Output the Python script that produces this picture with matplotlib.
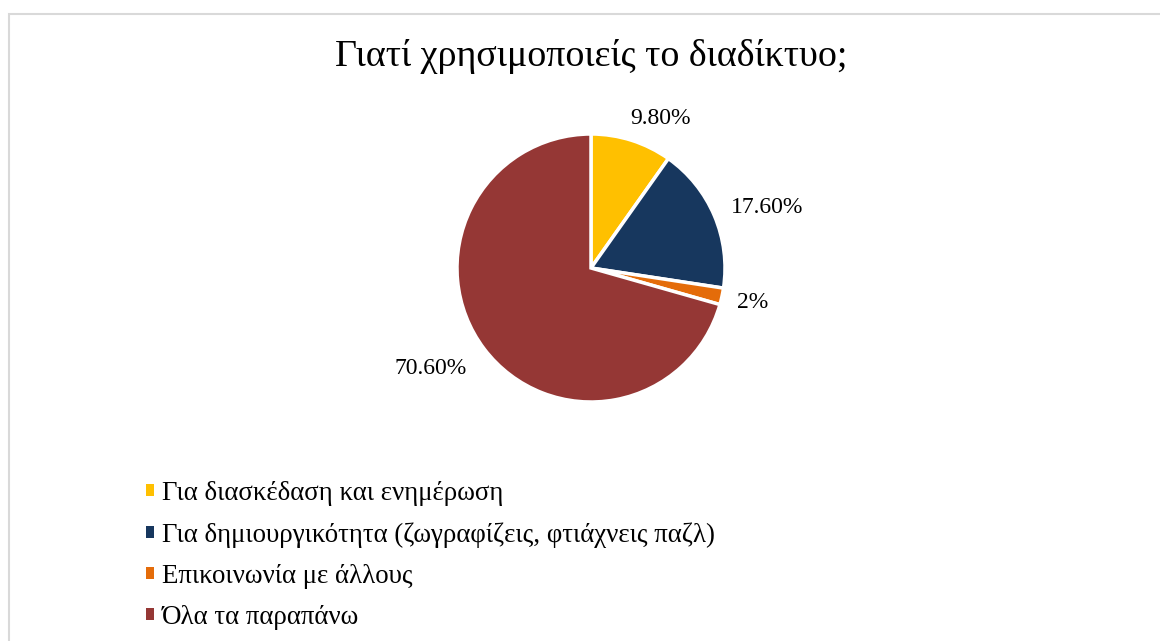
import numpy as np
import matplotlib
matplotlib.use("agg")
import matplotlib.pyplot as plt
from matplotlib.patches import Patch, Rectangle

plt.rcParams['font.family'] = ['Liberation Serif', 'DejaVu Serif']

title = "Γιατί χρησιμοποιείς το διαδίκτυο;"
categories = ["Για διασκέδαση και ενημέρωση",
              "Για δημιουργικότητα (ζωγραφίζεις, φτιάχνεις παζλ)",
              "Επικοινωνία με άλλους",
              "Όλα τα παραπάνω"]
values = [9.8, 17.6, 2.0, 70.6]
value_labels = ["9.80%", "17.60%", "2%", "70.60%"]
colors = ["#FFC000", "#17375E", "#E46C0A", "#953735"]

# label placement (angle in degrees, distance in radii)
label_angles = [65, 19, -12, -148]
label_dist = [1.23, 1.39, 1.23, 1.41]

W, H = 1160, 641
fig = plt.figure(figsize=(W / 100, H / 100), dpi=100)

# outer frame
fig.patches.append(Rectangle((8.5 / W, -0.1), 1.2, 1 - 13.5 / H + 0.1,
                             transform=fig.transFigure, fill=False,
                             edgecolor="#D9D9D9", linewidth=1.5))

cx, cy, r = 591, 268, 134
ax = fig.add_axes([(cx - r) / W, (H - cy - r) / H, 2 * r / W, 2 * r / H])
ax.pie(values, colors=colors, startangle=90, counterclock=False, radius=1,
       wedgeprops=dict(edgecolor="white", linewidth=2.5))
ax.set_xlim(-1, 1)
ax.set_ylim(-1, 1)
ax.set_aspect("equal")
ax.axis("off")

for lab, ang, d in zip(value_labels, label_angles, label_dist):
    a = np.deg2rad(ang)
    ax.text(d * np.cos(a), d * np.sin(a), lab, ha="center", va="center",
            fontsize=17, color="black")

fig.text(591 / W, 1 - 57 / H, title, ha="center", va="center", fontsize=27.4)

handles = [Patch(facecolor=c, edgecolor="none") for c in colors]
fig.legend(handles, categories, loc="upper left",
           bbox_to_anchor=(135 / W, 1 - 470 / H), frameon=False,
           fontsize=19.4, handlelength=0.3, handleheight=0.3,
           handletextpad=0.3, labelspacing=0.6, borderaxespad=0)

fig.savefig("out.png", dpi=100)
